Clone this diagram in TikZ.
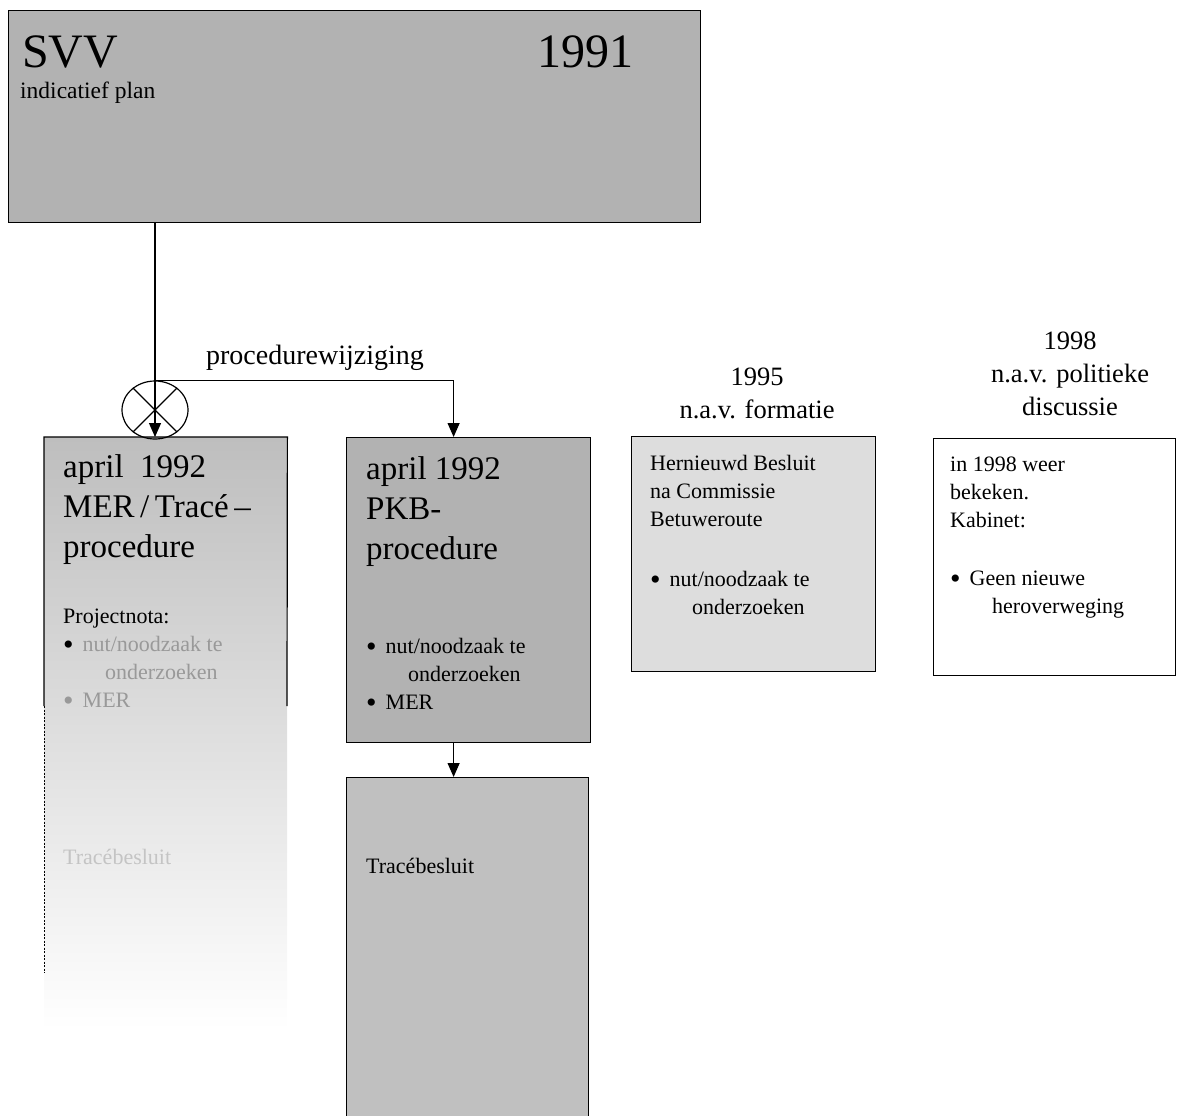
\documentclass[tikz,border=0pt]{standalone}
\usepackage{fontspec}
\setmainfont{Liberation Serif}
\usepackage{xcolor}
\usepackage{tikz}
\usetikzlibrary{positioning,arrows.meta,shapes.geometric}
\definecolor{BoxGrey}{HTML}{B2B2B2}
\definecolor{StepGrey}{HTML}{C0C0C0}
\definecolor{NoteGrey}{HTML}{DDDDDD}
\definecolor{FadeGrey}{HTML}{BEBEBE}
\definecolor{TextGrey}{HTML}{999999}
\definecolor{GhostGrey}{HTML}{C4C4C4}
\newcommand{\blt}{\raisebox{-3pt}{\fontsize{30}{28}\selectfont\textbullet}\hspace{9pt}}

\begin{document}
\begin{tikzpicture}[x=1pt,y=-1pt,
                    every node/.style={inner sep=0pt,anchor=north west,align=left},
                    box/.style={draw=black,line width=1.2pt},
                    ar/.style={-{Triangle[width=12pt,length=14pt]},line width=1.2pt},
                    ttl/.style={font=\fontsize{33}{40}\selectfont},
                    bd/.style={font=\fontsize{22}{28}\selectfont},
                    hd/.style={font=\fontsize{26.5}{33}\selectfont,anchor=north,align=center}]
      \useasboundingbox (0,0) rectangle (1178,1116);
      \node[box, fill=BoxGrey, minimum width=692pt, minimum height=212pt]
        (svvbox) at (8,10) {};
      \node[font=\fontsize{48}{56}\selectfont, anchor=base west] (svvname) at (22,67) {SVV};
      \node[font=\fontsize{48}{56}\selectfont, anchor=base west] (svvyear) at (537,68) {1991};
      \node[font=\fontsize{23.5}{28}\selectfont, anchor=base west] (svvsub) at (20,98) {indicatief plan};

      \node[top color=FadeGrey, bottom color=white, minimum width=243pt, minimum height=593pt]
        (mer) at (44,437) {};
      \draw[line width=1.2pt] (44,706) -- (mer.north west) -- (mer.north east) -- (287,706);
      \draw[line width=0.8pt, dash pattern=on 2pt off 1.5pt] (44,706) -- (44,973);
      \node[ttl] (mertitle) at (63,454) {april\ \ 1992\\MER\,/\,Tracé\,–\\procedure};
      \node[bd] (merbody) at (63,609)
        {Projectnota:\\
         \blt{\color{TextGrey}nut/noodzaak te}\\
         \hspace*{42pt}{\color{TextGrey}onderzoeken}\\
         {\color{TextGrey}\blt MER}};
      \node[bd, text=GhostGrey] (mertrace) at (63,849) {Tracébesluit};

      \node[draw, ellipse, line width=1.2pt, minimum width=66pt, minimum height=58pt,
            anchor=center] (xo) at (155,410) {};
      \draw[line width=1.2pt] (xo.135) -- (xo.-45) (xo.45) -- (xo.-135);

      \node[box, fill=BoxGrey, minimum width=244pt, minimum height=305pt]
        (pkb) at (346,437) {};
      \node[ttl] (pkbtitle) at (366,456) {april 1992\\PKB-\\procedure};
      \node[bd] (pkbbody) at (366,638)
        {\blt nut/noodzaak te\\
         \hspace*{42pt}onderzoeken\\
         \blt MER};

      \node[box, fill=StepGrey, minimum width=242pt, minimum height=350pt]
        (trace) at (346,777) {};
      \node[bd] (tracetxt) at (366,858) {Tracébesluit};

      \node[hd] (hd95) at (757,368) {1995\\n.a.v. formatie};
      \node[box, fill=NoteGrey, minimum width=244pt, minimum height=235pt]
        (box95) at (631,436) {};
      \node[bd] (txt95) at (650,455)
        {Hernieuwd Besluit\\na Commissie\\Betuweroute\\[32pt]
         \blt nut/noodzaak te\\
         \hspace*{42pt}onderzoeken};

      \node[hd] (hd98) at (1070,332) {1998\\n.a.v. politieke\\discussie};
      \node[box, fill=white, minimum width=242pt, minimum height=237pt]
        (box98) at (933,438) {};
      \node[bd] (txt98) at (950,457)
        {in 1998 weer\\bekeken.\\Kabinet:\\[30pt]
         \blt Geen nieuwe\\
         \hspace*{42pt}heroverweging};

      \node[font=\fontsize{28}{34}\selectfont, anchor=center] (wijz) at (315,358) {procedurewijziging};

      \draw[ar] (svvbox.south -| xo.center) -- (mer.north -| xo.center);
      \draw[ar] (xo.north) -| ([xshift=-15pt]pkb.north);
      \draw[ar] ([xshift=-15pt]pkb.south) -- ([xshift=-14pt]trace.north);
    \end{tikzpicture}
\end{document}
